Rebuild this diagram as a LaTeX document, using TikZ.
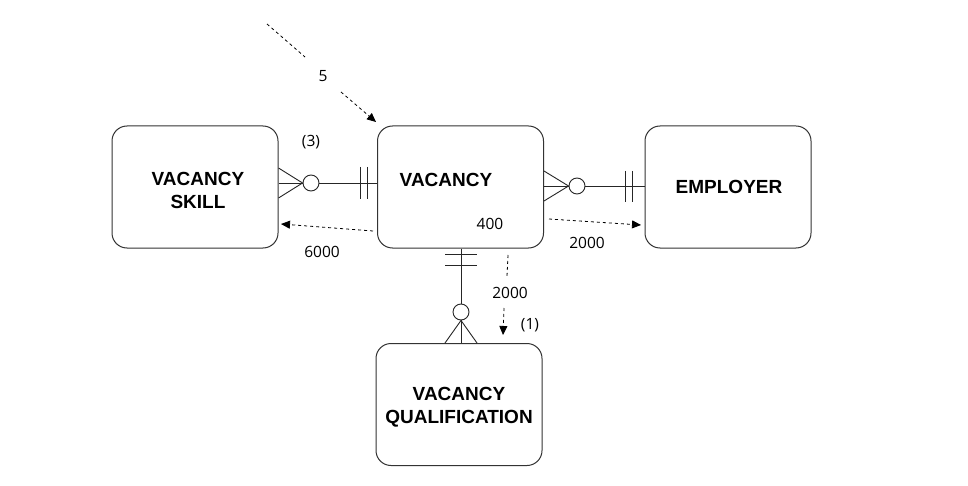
\documentclass[tikz,border=0pt]{standalone}
\usepackage{fontspec}
\setmainfont{Liberation Sans}
\newfontfamily\lblfont{Open Sans}
\usetikzlibrary{arrows.meta}
\begin{document}
\begin{tikzpicture}[x=1pt,y=-1pt,
  entity/.style={draw=black!80, line width=1pt, rounded corners=15pt, minimum width=166pt, minimum height=122pt, inner sep=0pt},
  ename/.style={font=\fontsize{19}{23}\selectfont\bfseries, align=center, inner sep=0pt},
  rel/.style={draw=black!85, line width=0.9pt},
  depline/.style={draw=black, line width=0.8pt, dash pattern=on 3pt off 3pt},
  dep/.style={depline, -{Triangle[length=9pt,width=8pt]}},
  lbl/.style={font=\lblfont\fontsize{15.5}{18}\selectfont, inner sep=1pt}]
\useasboundingbox (0,0) rectangle (968,486);
\fill[white] (0,0) rectangle (968,486);

% entities
\node[entity] (vs) at (195,187) {};
\node[entity] (v)  at (460.5,187) {};
\node[entity] (e)  at (728,187) {};
\node[entity] (vq) at (459,404.5) {};
\node[ename] (vsn) at (198,190) {VACANCY\\SKILL};
\node[ename] (vn)  at (446,180) {VACANCY};
\node[ename] (en)  at (729,187) {EMPLOYER};
\node[ename] (vqn) at (459,407) {VACANCY\\QUALIFICATION};

% VACANCY SKILL -- VACANCY
\coordinate (a1) at (vs.east |- 0,183);
\coordinate (a2) at (v.west |- 0,183);
\node[rel, circle, minimum size=16pt, inner sep=0pt] (c1) at (311,183) {};
\draw[rel] (a1) -- (c1.west) (c1.east) -- (a2);
\draw[rel] (a1 |- 0,168) -- (c1.west) -- (a1 |- 0,198);
\draw[rel] (360,167) -- (360,199) (367,167) -- (367,199);

% VACANCY -- EMPLOYER
\coordinate (b1) at (v.east |- 0,186);
\coordinate (b2) at (e.west |- 0,186);
\node[rel, circle, minimum size=16pt, inner sep=0pt] (c2) at (577,186) {};
\draw[rel] (b1) -- (c2.west) (c2.east) -- (b2);
\draw[rel] (b1 |- 0,171) -- (c2.west) -- (b1 |- 0,201);
\draw[rel] (625,171) -- (625,202) (632,171) -- (632,202);

% VACANCY -- VACANCY QUALIFICATION
\coordinate (d1) at (v.south -| 461,0);
\coordinate (d2) at (vq.north -| 461,0);
\node[rel, circle, minimum size=16pt, inner sep=0pt] (c3) at (461,312) {};
\draw[rel] (d1) -- (c3.north) (c3.south) -- (d2);
\draw[rel] (445,343) -- (c3.south) -- (477,343);
\draw[rel] (445,254) -- (477,254) (445,265) -- (477,265);

% dependency arrows
\coordinate (s5) at (267,24);
\coordinate (g5a) at (305,57);
\coordinate (g5b) at (341,92);
\coordinate (t5) at (376,122);
\draw[depline] (s5) -- (g5a);
\draw[dep] (g5b) -- (t5);
\node[lbl] (l5) at (323,76) {5};

\coordinate (s6) at (373,231);
\coordinate (t6) at (281,224);
\draw[dep] (s6) -- (t6);
\node[lbl] (l6) at (322,252) {6000};

\coordinate (s7) at (549,219);
\coordinate (t7) at (641,225);
\draw[dep] (s7) -- (t7);
\node[lbl] (l7) at (587,243) {2000};

\coordinate (s8) at (508,255);
\coordinate (g8a) at (507,276);
\coordinate (g8b) at (504,308);
\coordinate (t8) at (503,335);
\draw[depline] (s8) -- (g8a);
\draw[dep] (g8b) -- (t8);
\node[lbl] (l8) at (510,293) {2000};

\node[lbl] (l3) at (311,142) {(3)};
\node[lbl] (l1) at (530,325) {(1)};
\node[lbl] (l4) at (490,224) {400};
\end{tikzpicture}
\end{document}
